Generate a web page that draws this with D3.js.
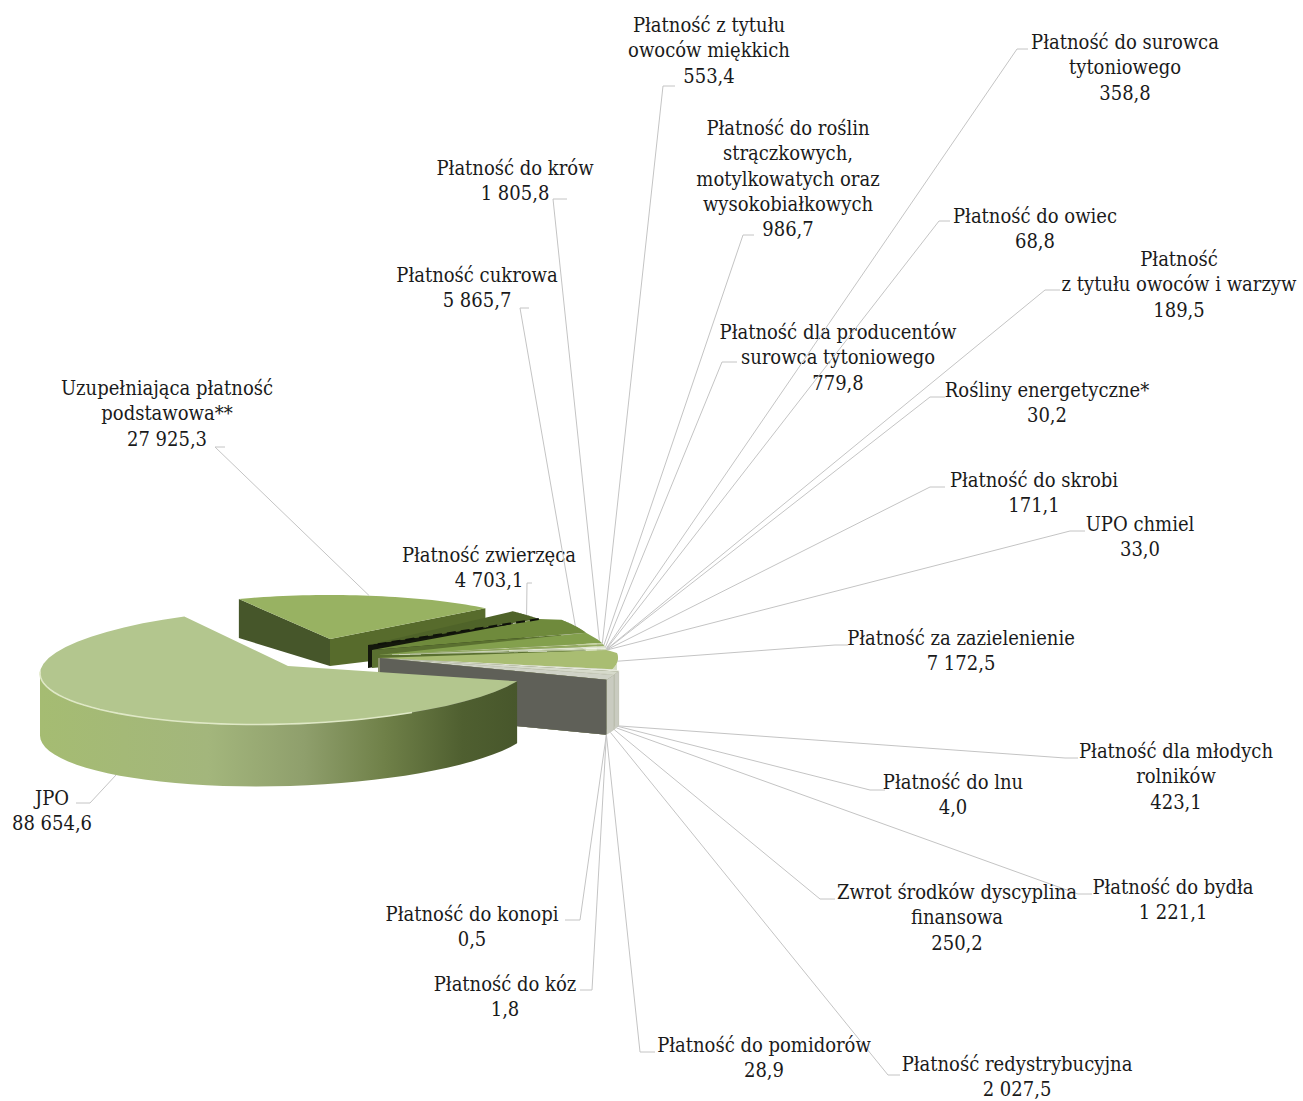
<!DOCTYPE html>
<html><head><meta charset="utf-8">
<script src="https://cdn.jsdelivr.net/npm/d3@7"></script>
<style>html,body{margin:0;background:#fff}svg{display:block}text{font-family:"DejaVu Serif",serif;font-stretch:condensed;font-size:20px;fill:#1a1a1a}</style>
</head><body><div id="c"></div>
<script>
const categories=[["JPO"],["Uzupełniająca płatność","podstawowa**"],["Płatność zwierzęca"],["Płatność cukrowa"],["Płatność do krów"],["Płatność z tytułu","owoców miękkich"],["Płatność do roślin","strączkowych,","motylkowatych oraz","wysokobiałkowych"],["Płatność dla producentów","surowca tytoniowego"],["Płatność do surowca","tytoniowego"],["Płatność do owiec"],["Płatność","z tytułu owoców i warzyw"],["Rośliny energetyczne*"],["Płatność do skrobi"],["UPO chmiel"],["Płatność za zazielenienie"],["Płatność dla młodych","rolników"],["Płatność do lnu"],["Płatność do bydła"],["Zwrot środków dyscyplina","finansowa"],["Płatność redystrybucyjna"],["Płatność do pomidorów"],["Płatność do kóz"],["Płatność do konopi"]];
const values=[88654.6,27925.3,4703.1,5865.7,1805.8,553.4,986.7,779.8,358.8,68.8,189.5,30.2,171.1,33.0,7172.5,423.1,4.0,1221.1,250.2,2027.5,28.9,1.8,0.5];
const topColors=["#b3c68e","#98b262","#4f6329","#6f8a3c","#83a04d","#c3d19f","#96ad62","#dfe6cf","#eef1e4","#ffffff","#b6c78c","#ffffff","#dfe6cf","#ffffff","#a9bd72","#e6e9dc","#ffffff","#d6dacb","#f2f3ec","#cfd2c6","#f4f4f0","#ffffff","#e8e8e2"];
const labelCx=[52,167,489,477,515,709,788,838,1125,1035,1179,1047,1034,1140,961,1176,953,1173,957,1017,764,505,472];
const labelTop=[798,388,555,275,168,25,128,332,42,216,259,390,480,524,638,751,782,887,892,1064,1045,984,914];
const elbowX=[90,215,527,520,553,663,743,722,1017,939,1045,930,930,1070,835,1065,870,1078,820,888,640,592,580];
const elbowY=[803,447,583,308,199,86,235,362,49,221,290,397,487,531,645,758,790,894,899,1075,1052,990,920];
const stubX=[76,225,532,529,567,675,754,737,1028,950,1060,945,945,1085,848,1078,885,1092,835,900,655,580,565];

const W=1303,H=1101,lineGap=25.3;
const rad=d=>d*Math.PI/180;
const pies=d3.pie().sort(null).startAngle(rad(112.5)).endAngle(rad(472.5))(values);
function geom(i){
  if(i===0) return {cx:288,cy:666,rx:248,ry:58,h0:62,h1:62,skew:-0.03};
  if(i===1) return {cx:330,cy:639,rx:218,ry:44,h0:27,h1:39,skew:0};
  if(i===2) return {cx:368,cy:645,rx:203,ry:48,h0:23,h1:23,skew:0};
  if(i===3) return {cx:372,cy:650,rx:225,ry:56,h0:18,h1:18,skew:0};
  if(i<14) return {cx:378,cy:655,rx:230,ry:52,h0:40,h1:40,skew:0};
  if(i===14) return {cx:378,cy:658,rx:240,ry:52,h0:55,h1:55,skew:0};
  return {cx:380,cy:658,rx:245,ry:57,h0:55,h1:55,skew:0};
}
const pt=(g,a,r=1,z=0)=>{const dx=g.rx*r*Math.sin(a);return [g.cx+dx,g.cy-g.ry*r*Math.cos(a)+g.skew*dx+z*(g.h0+(g.h1-g.h0)*r)];};
const line=d3.line();
const arcPts=(g,a0,a1,z=0)=>d3.range(0,41).map(k=>pt(g,a0+(a1-a0)*k/40,1,z));
const svg=d3.select("#c").append("svg").attr("width",W).attr("height",H);
const defs=svg.append("defs");
const grad=defs.append("linearGradient").attr("id","jpoWall").attr("gradientUnits","userSpaceOnUse").attr("x1",40).attr("x2",520).attr("y1",0).attr("y2",0);
[[0,"#a5bc72"],[.35,"#a3b67c"],[.55,"#8f9f6c"],[.72,"#6f8048"],[.88,"#4f5f30"],[1,"#47562b"]].forEach(s=>grad.append("stop").attr("offset",s[0]).attr("stop-color",s[1]));
const gPie=svg.append("g");
const poly=(pts,fill)=>gPie.append("path").attr("d",line(pts)+"Z").attr("fill",fill);
function drawTop(i){
  const d=pies[i],g=geom(i);
  const join=(i===3||i===4||i===14||i===15)?[pt(geom(i-1),pies[i-1].endAngle)]:[];
  poly([[g.cx,g.cy],...join,...arcPts(g,d.startAngle,d.endAngle)],topColors[i]);
}
function wallEnd(i,a,fill){const g=geom(i);poly([[g.cx,g.cy],pt(g,a),pt(g,a,1,1),[g.cx,g.cy+g.h0]],fill);}
function wallOuter(i,a0,a1,fill){const g=geom(i);poly([...arcPts(g,a0,a1),...arcPts(g,a1,a0,1)],fill);}
// UPP
const u=pies[1];
wallEnd(1,u.startAngle,"#46562a");
wallEnd(1,u.endAngle,"#576b2c");
drawTop(1);
// small slices, far to near
const small=d3.range(2,23);
const endWall=i=>i===2?"#14180c":i===3?"#5a7030":i===22?"#5f6058":"#8b9170";
small.forEach(i=>{
  const d=pies[i],a0=Math.max(rad(90),d.startAngle);
  if(i>=14||i<4) wallEnd(i,d.endAngle,endWall(i));
  if(d.endAngle>rad(90)) wallOuter(i,a0,d.endAngle,i===14?"#d5dcc4":"#c9cbc0");
  drawTop(i);
});
// black dashed lower edge of the dark slice
{const g=geom(2),a=pies[2].endAngle;
 gPie.append("path").attr("d",line([pt(g,a),[g.cx+5,g.cy]])).attr("stroke","#0f120a").attr("stroke-width",2).attr("stroke-dasharray","9 5").attr("fill","none");}
// JPO
{const d=pies[0],g=geom(0);
 wallOuter(0,d.startAngle,rad(270),"url(#jpoWall)");
 drawTop(0);
 gPie.append("path").attr("d",line(arcPts(g,rad(150),rad(272)))).attr("stroke","#dfe8c6").attr("stroke-width",1.6).attr("fill","none");
}
// leaders & labels
const fmt=d3.formatLocale({decimal:",",thousands:" ",grouping:[3]}).format(",.1f");
const gLab=svg.append("g");
pies.forEach((d,i)=>{
  const g=geom(i),mid=(d.startAngle+d.endAngle)/2;
  const base=(i===0||i>14)?1:0;
  const p=pt(g,mid,1,base);
  gLab.append("path").attr("d",line([p,[elbowX[i],elbowY[i]],[stubX[i],elbowY[i]]])).attr("fill","none").attr("stroke","#c4c4c4").attr("stroke-width",1);
  const rows=[...categories[i],fmt(values[i])];
  rows.forEach((t,k)=>gLab.append("text").attr("x",labelCx[i]).attr("y",labelTop[i]+k*lineGap).attr("text-anchor","middle").attr("dominant-baseline","central").text(t));
});
</script></body></html>
